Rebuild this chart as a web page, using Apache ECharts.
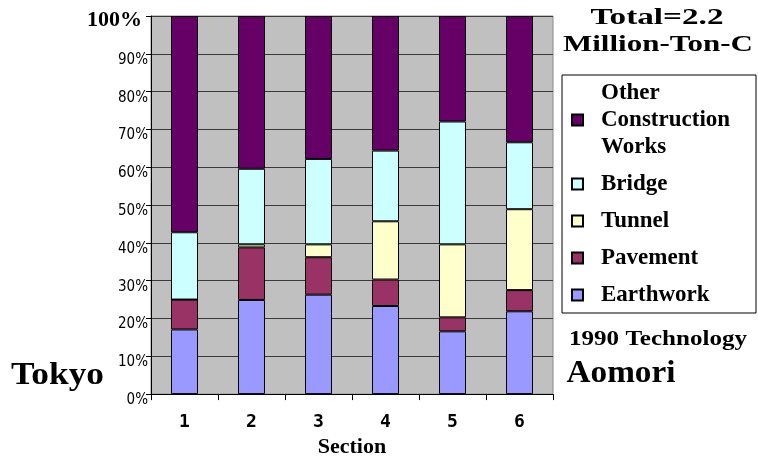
<!DOCTYPE html>
<html>
<head>
<meta charset="utf-8">
<script src="https://cdn.jsdelivr.net/npm/echarts@6/dist/echarts.min.js"></script>
<style>
  html, body { margin: 0; padding: 0; background: #fff; }
  #chart { width: 758px; height: 463px; }
  .fontwarm { position: absolute; left: 0; top: 0; opacity: 0; pointer-events: none; }
</style>
</head>
<body>
<div class="fontwarm">
  <span style="font-family:'Liberation Serif';font-weight:bold">Total Tokyo</span>
  <span style="font-family:'Liberation Serif'">Aomori</span>
  <span style="font-family:'DejaVu Sans Condensed'">90%</span>
  <span style="font-family:'DejaVu Sans Mono';font-weight:bold">123</span>
</div>
<div id="chart"></div>
<script>
// Share of carbon emissions by construction type, per section (Tokyo -> Aomori)
const categories = ['1', '2', '3', '4', '5', '6'];
const earthwork = [17.1, 24.9, 26.3, 23.3, 16.6, 21.9];
const pavement  = [7.9, 13.9, 9.9, 7.0, 3.7, 5.6];
const tunnel    = [0, 0.8, 3.4, 15.4, 19.3, 21.4];
const bridge    = [17.8, 20.0, 22.6, 18.7, 32.5, 17.7];
const other     = [57.2, 40.4, 37.8, 35.6, 27.9, 33.4];
const yTicks = [0, 10, 20, 30, 40, 50, 60, 70, 80, 90, 100];

const SERIF = '"Liberation Serif", serif';
const NARROW = '"DejaVu Sans Condensed", sans-serif';
const MONO = '"DejaVu Sans Mono", monospace';

const measureCtx = document.createElement('canvas').getContext('2d');
function stretchTo(text, font, width) {
  measureCtx.font = font;
  return width / measureCtx.measureText(text).width;
}
function label(text, size, cx, cy, width) {
  const font = 'bold ' + size + 'px ' + SERIF;
  return {
    type: 'text', x: cx, y: cy, scaleX: stretchTo(text, font, width),
    style: {
      text: text, fontFamily: SERIF, fontWeight: 'bold', fontSize: size,
      fill: '#000', align: 'center', verticalAlign: 'middle'
    },
    z: 10
  };
}

const seriesDefs = [
  { name: 'Earthwork', data: earthwork, color: '#9999ff' },
  { name: 'Pavement', data: pavement, color: '#993366' },
  { name: 'Tunnel', data: tunnel, color: '#ffffcc' },
  { name: 'Bridge', data: bridge, color: '#ccffff' },
  { name: 'Other Construction Works', data: other, color: '#660066' }
];

function buildOption() {
  return {
    animation: false,
    backgroundColor: '#ffffff',
    grid: {
      left: 151, right: 205, top: 16, bottom: 68,
      show: true, backgroundColor: '#c0c0c0', borderColor: '#8a8a8a', borderWidth: 1
    },
    legend: {
      orient: 'vertical',
      left: 566, top: 74.5, padding: 5,
      selectedMode: false,
      itemWidth: 11, itemHeight: 11, itemGap: 10,
      icon: 'rect',
      data: ['Other Construction Works', 'Bridge', 'Tunnel', 'Pavement', 'Earthwork'],
      formatter: function (n) { return n === 'Other Construction Works' ? 'Other\nConstruction\nWorks' : n; },
      textStyle: {
        fontFamily: SERIF, fontWeight: 'bold', fontSize: 23, lineHeight: 27,
        color: '#000', padding: [0, 0, 0, 13]
      }
    },
    xAxis: {
      type: 'category',
      data: categories,
      name: 'Section',
      nameLocation: 'middle',
      nameGap: 40,
      nameTextStyle: { fontFamily: SERIF, fontWeight: 'bold', fontSize: 22, color: '#000' },
      axisLine: { lineStyle: { color: '#000', width: 1 } },
      axisTick: { show: true, length: 6, lineStyle: { color: '#000' } },
      axisLabel: { fontFamily: MONO, fontWeight: 'bold', fontSize: 18, color: '#000', margin: 19 }
    },
    yAxis: {
      type: 'value',
      min: yTicks[0], max: yTicks[yTicks.length - 1], interval: 10,
      axisLine: { show: true, lineStyle: { color: '#000', width: 1 } },
      axisTick: { show: true, length: 5, lineStyle: { color: '#000' } },
      splitLine: { show: true, lineStyle: { color: '#3a3a3a', width: 1 } },
      axisLabel: {
        margin: 3,
        verticalAlign: 'middle',
        formatter: function (v) { return v === 100 ? '{big|100%}' : '{n|' + v + '%}'; },
        rich: {
          n: { fontFamily: NARROW, fontSize: 15, color: '#000', padding: [12, 0, 0, 0] },
          big: { fontFamily: SERIF, fontWeight: 'bold', fontSize: 22, color: '#000', padding: [9, 6, 0, 0] }
        }
      }
    },
    graphic: [
      label('Total=2.2', 24, 657, 18, 133),
      label('Million-Ton-C', 24, 658, 45, 190),
      label('1990 Technology', 22, 658, 339, 178),
      label('Tokyo', 32, 57.5, 376, 93),
      label('Aomori', 32, 621, 374, 109),
      {
        type: 'rect', z: 5,
        shape: { x: 562, y: 75, width: 194, height: 238 },
        style: { fill: 'none', stroke: '#000', lineWidth: 1 }
      }
    ],
    series: seriesDefs.map(function (s) {
      return {
        name: s.name,
        type: 'bar',
        stack: 'share',
        barWidth: 27,
        data: s.data,
        itemStyle: { color: s.color, borderColor: '#000', borderWidth: 1 },
        emphasis: { disabled: true }
      };
    })
  };
}

const chart = echarts.init(document.getElementById('chart'), null, { renderer: 'canvas' });
chart.setOption(buildOption());

// Redraw once the system fonts are resolved so text is measured with the right faces
if (document.fonts && document.fonts.load) {
  Promise.all([
    document.fonts.load('bold 24px "Liberation Serif"'),
    document.fonts.load('15px "DejaVu Sans Condensed"'),
    document.fonts.load('bold 18px "DejaVu Sans Mono"')
  ]).then(function () {
    chart.clear();
    chart.setOption(buildOption(), true);
  });
}
</script>
</body>
</html>
